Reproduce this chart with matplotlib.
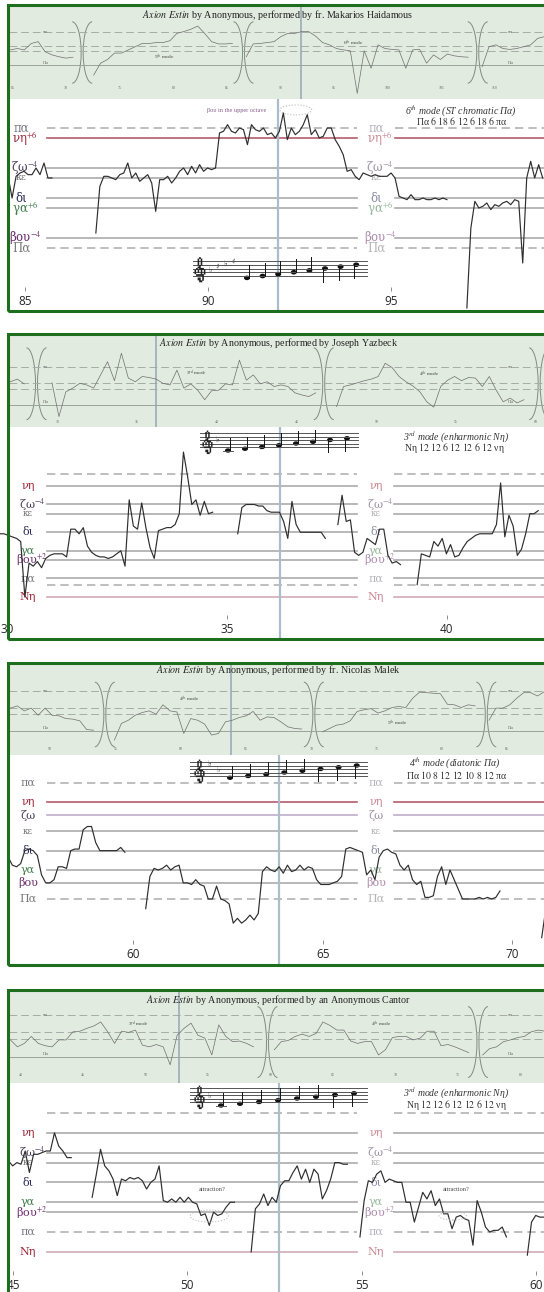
import numpy as np
import matplotlib
matplotlib.use("Agg")
import matplotlib.pyplot as plt
import matplotlib.transforms as mtransforms
from matplotlib import font_manager
from matplotlib.ft2font import FT2Font
from matplotlib.patches import Rectangle, Arc, Ellipse

plt.rcParams["font.family"] = ["Liberation Serif", "DejaVu Serif", "DejaVu Sans"]
plt.rcParams["mathtext.fontset"] = "stix"

nan = np.nan

# ── close-up pitch tracks (moria above Πα, one value every dt seconds) ──
p1_t0, p1_dt = 84.32, 0.109
p1_pitch = [nan, nan, 43, 30, 43, 45, 46, 44, 44, 48, 44, 51, 42, 42,
            nan, nan, nan, nan, nan, nan, nan, nan, nan, nan,
            9, 37, 43, 43, 42, 41, 44, 45, 51, 42, 45, 40, 42, 44, 39, 22, 41, 41, 43, 39,
            42, 46, 48, 44, 49, 45, 50, 46, 48, 47, 48,
            69, 70, 74, 70, 69, 72, 71, 62, 74, 71, 70, 72, 68, 69, 66, 70, 81, 65, 72, 68,
            70, 74, 80, 68, 71, 66, 67, 72, 72, 65, 61, 56,
            46, 47, 43, 41, 45, 44, 43, 44, 43, 43, 43, 45, 42,
            31, 30, 29, 32, 29, 29, 30, 29, 29, 30, 29, 30, 29,
            nan, nan, nan, nan,
            -36, 12, 28, 24, 25, 27, 23, 26, 25, 27, 28, 26, 29, 28, -9, 42, 52, 42, 50, 42]

p2_t0, p2_dt = 29.83, 0.095
p2_pitch = [29, 29, 28, 27, 26, 24, -12, 10, 8, 11, 7, 13, 15, 16, 16, 16, 14,
            32, 32, 29, 33, 21, 17, 15, 14, 14, 13, 14, 16, 18, 8,
            51, 34, 32, 49, 33, 20, 13, 31, 32, 33, 33, 35, 42, 82, 66, 48, 51, 41, 50, 42, 43,
            nan, nan, nan, nan, nan,
            29, 46, 48, 48, 48, 47, 47, 44, 43, 43, 43, 37, 26, 50, 35, 30, 30, 30, 30, 30, 30, 26,
            nan, nan,
            35, 54, 37, 38, 17, 15, 17, 26, 24, 22, 32, 32, 15, 10, 11, 9,
            nan, nan, nan,
            -4, 16, 15, 14, 24, 21, 26, 16, 22, 14, 15, 20, 24, 26, 28, 29, 29, 29, 29, 35,
            62, 27, 41, 34, 15, 19, 29, 42, 42, 44,
            nan, nan, nan, nan, nan, nan, nan]

p3_t0, p3_dt = 56.48, 0.11
p3_pitch = [nan, nan,
            26, 21, 20, 22, 30, 31, 30, 27, 15, 10, 10, 12, 20, 20, 19, 30, 31, 31, 43, 45,
            45, 35, 30, 30, 30, 30, 30, 32, 29,
            nan, nan, nan, nan,
            -6, 14, 19, 18, 19, 21, 18, 20, 21, 10, 10, 9, 12, 9, 8, 0, 0, 8, 0, -1,
            -3, -15, -12, -15, -13, -10, -13, -9,
            17, 20, 18, 17, 20, 16, 21, 17, 18, 21, 18, 20, 19, 12, 9, 9, 9, 10, 11, 14,
            31, 32, 31, 30, 29, 15, 18, 12, 26, 30, 31, 29, 28, 21, 18, 21, 12, 9, 11, 1,
            1, 2, 14, 20, 9, 18, 12, 6, 0, 0, 0, 0, 1, 0, 1, 0, 1, 5,
            nan, nan, nan, nan, nan, nan, nan, nan, nan,
            -24, -6,
            nan, nan, nan, nan, nan]

p4_t0, p4_dt = 44.63, 0.12
p4_pitch = [nan, nan,
            43, 40, 42, 41, 49, 36, 47, 47, 48, 49, 49, 60, 52, 49, 45, 45,
            nan, nan, nan, nan,
            21, 35, 50, 40, 37, 32, 22, 32, 31, 33, 32, 33, 31, 26, 30, 32, 40, 19, 18, 20,
            18, 21, 18, 21, 18, 17, 10, 11, 4, 12, 10, 11, 15, 18, 18,
            nan, nan, nan,
            -12, 14, 17, 23, 16, 21, 18, 28, 31, 31, 36, 40, 32, 38, 30, 38, 35, 20, 25, 32,
            42, 42, 41, 41,
            nan, nan,
            -3, 19, 31, 30, 35, 37, 30, 32, 31, 30, 30, 18, 18, 6, 15, 24, 20, 25, 16, 20,
            11, 11, 2, 9, 10, 8, 7, -8, 19, 12, 3, 0, 1, 1, 3, -3,
            nan, nan, nan, nan,
            -14, 6, 10, 9, 9, 10,
            nan, nan, nan, nan, nan]

# ── whole-recording overview tracks ──
s1_t0, s1_dt = 64.81, 0.647
s1_pitch = [33, 36, 33, 47, 51, 29, 22, 18, 15, 17, nan, nan,
            -22, 4, 12, 26, 26, 33, 40, 47, 47, 49, 49, 53, 69, 73, 78, 85, 69, 51, 46, 46, 47, nan,
            18, 46, 47, 49, 51, 62, 69, 69, 73, 73, 63, 49, 44, 36, 33, 31, -62, 31, -7, 44,
            36, 34, 33, -7, 33, 34, 4, 22, 12, 24, 20, 18, 17, nan,
            -4, 40, 44, 36, 34, 36, 40, 44, 58, 62]

s2_t0, s2_dt = 27.06, 0.435
s2_pitch = [44, 49, 40, nan, nan, nan,
            42, -22, 25, 32, 41, 38, 32, 57, 82, 46, 98, 51, 44, 54, 52, 49, 41, 38, 66, 32,
            40, 28, 10, 27, 28, 40, 38, 85, 47, 57, 40, 44, 35, 38, 35, 23, 19, 16, 23,
            nan, nan,
            -3, 35, 38, 42, 46, 49, 54, 79, 71, 54, 44, 36, 25, 6, -4, 35, 47, 54, 46, 52,
            51, 35, 54, 28, 6, 13, 4, 10,
            nan, nan,
            6, 11, 6, 13]

s3_t0, s3_dt = 46.97, 0.531
s3_pitch = [41, 45, 36, 41, 28, 41, 28, 27, 22, 21, 18, 2, 1,
            nan, nan,
            -17, 13, 19, 28, 33, 36, 30, 47, 36, 34, -5, 22, 19, 12, -8, -5, 16, 19, 24, 27,
            35, 19, 25, 24, 16, 7, 4, 3,
            nan, nan,
            -2, 4, 10, 12, 18, 35, 38, 40, 32, 36, 42, 44, 42, 59, 70, 69, 68, 67, 48, 47,
            42, 47, 45,
            nan,
            19, 41, 41, 47, 59, 69, 69, 63, 71, 74, 77, 80]

s4_t0, s4_dt = 39.17, 0.556
s4_pitch = [29, 17, 23, 35, 23, 19, 17, 29, 29, 43, 44, 49, 53, 60, 43, 23, 44, 42, 46, 20,
            17, 21, 17, -14, 37, 49, 58, 37, 32, 3, 55, 35, 26, 27, 23, 17,
            nan, nan,
            12, 26, 28, 35, 39, 35, 40, 60, 54, 46, 46, 27, 23, 26, 26, 3, 12, 33, 35, 35,
            29, 32, 44, 44, 19, 21, 17, 12, 7,
            nan,
            3, 14, 17, 26, 29, 33, 35, 43, 46, 44, 49, 52, 55]

# mode-section boundaries in the overviews (s) and the mode captions (s, moria)
s1_bounds = [71.5, 86.55, 108.4]
s2_bounds = [28.7, 46.7, 60.2]
s3_bounds = [54.2, 70.2, 83.4]
s4_bounds = [59.75, 76.6]
s1_modes = [("5$^{th}$ mode", 79.2, 17), ("6$^{th}$ mode", 96.8, 47)]
s2_modes = [("3$^{rd}$ mode", 38.7, 60), ("4$^{th}$ mode", 53.3, 58)]
s3_modes = [("4$^{th}$ mode", 60.7, 57), ("5$^{th}$ mode", 76.6, 13)]
s4_modes = [("3$^{rd}$ mode", 49.4, 55), ("4$^{th}$ mode", 68.9, 55)]
strip_dashed = [72, 42, 30]

# scales: note names from the lowest line up, and the intervals (moria) between them
p1_names = ["Πα", "βου$^{-4}$", "γα$^{+6}$", "δι", "κε", "ζω$^{-4}$", "νη$^{+6}$", "πα"]
p1_base, p1_steps = 0, [6, 18, 6, 12, 6, 18, 6]
p2_names = ["Νη", "πα", "βου$^{+2}$", "γα", "δι", "κε", "ζω$^{-4}$", "νη"]
p2_base, p2_steps = -12, [12, 12, 6, 12, 12, 6, 12]
p3_names = ["Πα", "βου", "γα", "δι", "κε", "ζω", "νη", "πα"]
p3_base, p3_steps = 0, [10, 8, 12, 12, 10, 8, 12]
p4_names = p2_names
p4_base, p4_steps = -12, [12, 12, 6, 12, 12, 6, 12]

mode_titles = ["6$^{th}$ mode (ST chromatic Πα)", "3$^{rd}$ mode (enharmonic Νη)",
               "4$^{th}$ mode (diatonic Πα)", "3$^{rd}$ mode (enharmonic Νη)"]
performers = ["fr. Makarios Haidamous", "Joseph Yazbeck", "fr. Nicolas Malek",
              "an Anonymous Cantor"]
cursor_times = [91.9, 36.2, 63.85, 52.63]
p1_ticks, p2_ticks, p3_ticks, p4_ticks = [85, 90, 95], [30, 35, 40], [60, 65, 70], [45, 50, 55, 60]

# scale written on the staff (half line-steps above E4)
staff1 = [-1, 0, 1, 2, 3, 4, 5, 6]
staff2 = [-2, -1, 0, 1, 2, 3, 4, 5]
staff3 = [-1, 0, 1, 2, 3, 4, 5, 6]
staff4 = [-2, -1, 0, 1, 2, 3, 4, 5]

W, H = 544, 1292
fig = plt.figure(figsize=(W / 100, H / 100), dpi=100)
fig.patch.set_facecolor("white")


def rect(x0, y0, x1, y1):
    return [x0 / W, 1 - y1 / H, (x1 - x0) / W, (y1 - y0) / H]


def family_with(ch):
    for fe in font_manager.fontManager.ttflist:
        try:
            if ord(ch) in FT2Font(fe.fname).get_charmap():
                return fe.name
        except Exception:
            continue
    return None


G_CLEF = "\U0001D11E"
CLEF_FAMILY = family_with(G_CLEF)
# outline of a treble clef, in staff half-spaces, used when no font carries the sign
CLEF_X = [0.3, 0.9, 0.6, -0.3, -1.2, -1.4, -0.8, 0.2, 1.0, 1.3, 1.0, 0.4, -0.1, -0.4,
          -0.3, 0.0, 0.3, 0.5, 0.5, 0.1, -0.6, -0.9, -0.6, -0.2]
CLEF_Y = [2.6, 2.0, 0.9, 0.6, 1.4, 2.8, 4.2, 5.4, 6.8, 8.6, 10.4, 11.6, 11.0, 9.6,
          7.8, 5.0, 2.0, -1.0, -3.0, -4.2, -4.3, -3.5, -2.9, -3.1]

NOTE_COLORS = {"πα": "#7a7a86", "Πα": "#7a7a7a", "νη": "#9c2436", "Νη": "#9c2436",
               "ζω": "#4d3d5e", "κε": "#6e6e6e", "δι": "#2d2d5c", "γα": "#3e7d4a",
               "βου": "#6b2b6c"}
NOTE_SCALE = {"κε": 0.8}
LINE_STYLE = {"d": ("#b3b3b3", (0, (5, 3))), "s": ("#ababab", "-"),
              "r": ("#b65a6b", "-"), "p": ("#d2aab9", "-"), "v": ("#c0aecb", "-")}


def bare(ax):
    ax.set_xticks([])
    ax.set_yticks([])
    for s in ax.spines.values():
        s.set_visible(False)


def draw_strip(c):
    top, bot = c["top"] + 1, c["split"]
    ax = fig.add_axes(rect(9, top, W, bot))
    ax.set_facecolor("#e2ebdf")
    ax.set_xlim(c["s_left"], c["s_left"] + (W - 9) / c["s_pps"])
    ax.set_ylim((c["s_y0"] - bot) / c["s_mpx"], (c["s_y0"] - top) / c["s_mpx"])
    bare(ax)
    for m in strip_dashed:
        ax.axhline(m, color="#a5ada5", lw=0.7, ls=(0, (8, 4)))
    ax.axhline(0, color="#9ba49b", lw=0.7)
    ax.axvline(c["cursor"], color="#93a7b2", lw=1.1)
    t = c["s_t0"] + c["s_dt"] * np.arange(len(c["s_vals"]))
    ax.plot(t, c["s_vals"], color="#6e6e6e", lw=0.5)

    bl = mtransforms.blended_transform_factory(ax.transData, ax.transAxes)
    lb = mtransforms.blended_transform_factory(ax.transAxes, ax.transData)
    lo, hi = c["br_y"]
    pps = c["s_pps"]
    for b in c["bounds"]:
        ax.add_patch(Arc((b - 10 / pps, (lo + hi) / 2), 18 / pps, hi - lo, theta1=-90,
                         theta2=90, transform=bl, color="#7d8d7d", lw=0.7))
        ax.add_patch(Arc((b + 10 / pps, (lo + hi) / 2), 18 / pps, hi - lo, theta1=90,
                         theta2=270, transform=bl, color="#7d8d7d", lw=0.7))
    for fx in (0.069, 0.938):
        ax.text(fx, 72, "πα", transform=lb, fontsize=3.5, color="#707070",
                ha="center", va="center")
        ax.text(fx, 5, "Πα", transform=lb, fontsize=3.5, color="#707070",
                ha="center", va="center")
    for v in c["s_ticks"]:
        ax.text(v, c["s_tick_y"], str(v), transform=bl, fontsize=2.8, color="#666666",
                ha="center", va="center")
    for txt, tx, my in c["s_modes"]:
        ax.text(tx, my, txt, fontsize=3.8, color="#444444", ha="center", va="center")
    ax.text(0.503, c["title_y"],
            r"$\mathit{Axion\ Estin}$ by Anonymous, performed by " + c["who"],
            transform=ax.transAxes, ha="center", va="center", fontsize=7.2, color="#222222")


def draw_main(c):
    top, bot = c["split"], c["bottom"]
    ax = fig.add_axes(rect(0, top, W, bot))
    ax.set_facecolor("white")
    ax.set_xlim(c["t_left"], c["t_left"] + W / c["pps"])
    ax.set_ylim((c["y0"] - bot) / c["mpx"], (c["y0"] - top) / c["mpx"])
    bare(ax)
    blend = mtransforms.blended_transform_factory(ax.transAxes, ax.transData)
    xl0, xl1, xr0 = [v / W for v in c["lines_px"]]
    moria = c["base"] + np.concatenate([[0], np.cumsum(c["steps"])])
    for name, m, kind in zip(c["names"], moria, c["kinds"]):
        col, ls = LINE_STYLE[kind]
        ax.axhline(m, xl0, xl1, color=col, lw=1.2, ls=ls, zorder=1)
        ax.axhline(m, xr0, 1, color=col, lw=1.2, ls=ls, zorder=1)
        key = name.split("$")[0]
        tcol = NOTE_COLORS[key]
        fs = c["lab_fs"] * NOTE_SCALE.get(key, 1)
        shift = 4 if "$" in name else 0
        for k, lx in enumerate(c["lab_px"]):
            ax.text((lx + shift) / W, m, name, transform=blend, ha="center", va="center",
                    color=tcol, alpha=1 if k == 0 else 0.55, fontsize=fs,
                    family=["DejaVu Serif"], zorder=3)
    for m in c["extra"]:
        col, ls = LINE_STYLE["d"]
        ax.axhline(m, xl0, xl1, color=col, lw=1.2, ls=ls, zorder=1)
        ax.axhline(m, xr0, 1, color=col, lw=1.2, ls=ls, zorder=1)
    ax.axvline(c["cursor"], color="#a9bdca", lw=1.6, zorder=2)
    t = c["t0"] + c["dt"] * np.arange(len(c["pitch"]))
    ax.plot(t, c["pitch"], color="#2e2e2e", lw=0.85, zorder=4)

    sec = ax.secondary_xaxis(c["tick_loc"])
    sec.set_ticks(c["ticks"], labels=[str(v) for v in c["ticks"]],
                  fontfamily="Open Sans", fontsize=8.5, color="#262626")
    sec.tick_params(axis="x", direction="in", length=3, width=0.7, color="#8c8c8c", pad=3)
    for s in sec.spines.values():
        s.set_visible(False)

    h = bot - top
    (mx1, my1), (mx2, my2) = c["mode_px"]
    ax.text(mx1 / W, (bot - my1) / h, c["mode"], transform=ax.transAxes, ha="center",
            va="center", fontsize=7, style="italic", color="#333333")
    nums = r"\ ".join(str(s) for s in c["steps"])
    line2 = (c["names"][0].split("$")[0] + " $\\mathit{" + nums + "}$ "
             + c["names"][-1].split("$")[0])
    ax.text(mx2 / W, (bot - my2) / h, line2, transform=ax.transAxes, ha="center",
            va="center", fontsize=7, color="#333333")
    return ax


def draw_staff(s):
    sp = (s["bot"] - s["top"]) / 8.0
    lo, hi = -6, 12
    ax = fig.add_axes(rect(s["x0"], s["bot"] - hi * sp, s["x1"], s["bot"] - lo * sp))
    ax.set_xlim((s["x0"] - s["first"]) / s["gap"], (s["x1"] - s["first"]) / s["gap"])
    ax.set_ylim(lo, hi)
    ax.axis("off")
    for k in range(0, 9, 2):
        ax.axhline(k, color="#555555", lw=0.7)
    hw = 4.6 / s["gap"]
    for i, n in enumerate(s["notes"]):
        ax.add_patch(Ellipse((i, n), hw, 1.7, color="#111111"))
        if n < 4:
            ax.plot([i + hw * 0.45] * 2, [n + 0.2, n + 7], color="#111111", lw=0.7)
        else:
            ax.plot([i - hw * 0.45] * 2, [n - 0.2, n - 7], color="#111111", lw=0.7)
        for led in range(-2, n - 1, -2):
            ax.plot([i - hw, i + hw], [led, led], color="#555555", lw=0.7)
    cx = (s["clef"] - s["first"]) / s["gap"]
    if CLEF_FAMILY:
        ax.text(cx, 3.0, G_CLEF, family=[CLEF_FAMILY], fontsize=sp * 9.5,
                ha="center", va="center", color="#222222")
    else:
        kx = 1.6 * sp / s["gap"]
        ax.plot([cx + kx * v for v in CLEF_X], CLEF_Y, color="#111111", lw=1.0,
                solid_capstyle="round", solid_joinstyle="round")
    for px, st, g in s["accs"]:
        ax.text((px - s["first"]) / s["gap"], st, g, family=["DejaVu Sans"], fontsize=5.5,
                ha="center", va="center", color="#444444")


panels = [
    dict(top=5, split=99, bottom=311, who=performers[0],
         s_t0=s1_t0, s_dt=s1_dt, s_vals=s1_pitch, s_left=64.675, s_pps=10.72, s_y0=65,
         s_mpx=0.458, s_ticks=range(65, 111, 5), s_tick_y=0.118, bounds=s1_bounds,
         br_y=(0.17, 0.83), s_modes=s1_modes, title_y=0.90,
         t0=p1_t0, dt=p1_dt, pitch=p1_pitch, t_left=84.317, pps=36.6, y0=248, mpx=1.667,
         names=p1_names, base=p1_base, steps=p1_steps, kinds="dsssssrd", extra=[],
         lines_px=(47, 357, 395), lab_px=(21, 376), lab_fs=8.5, cursor=cursor_times[0],
         ticks=p1_ticks, tick_loc=0.094, mode=mode_titles[0], mode_px=((461, 111), (462, 121)),
         staff=dict(x0=193, x1=368, top=261, bot=276, first=247, gap=15.6, clef=199,
                    accs=[(210, 3, "♭"), (217, 5, "♯"), (225, 6.5, "♭"), (233, 8, "♯")],
                    notes=staff1)),
    dict(top=334, split=427, bottom=639, who=performers[1],
         s_t0=s2_t0, s_dt=s2_dt, s_vals=s2_pitch, s_left=26.976, s_pps=15.957, s_y0=405,
         s_mpx=0.528, s_ticks=range(30, 61, 5), s_tick_y=0.05, bounds=s2_bounds,
         br_y=(0.08, 0.86), s_modes=s2_modes, title_y=0.913,
         t0=p2_t0, dt=p2_dt, pitch=p2_pitch, t_left=29.834, pps=43.93, y0=578.5, mpx=1.542,
         names=p2_names, base=p2_base, steps=p2_steps, kinds="psssssss", extra=[-4, 68],
         lines_px=(47, 357, 394), lab_px=(28, 376), lab_fs=8, cursor=cursor_times[1],
         ticks=p2_ticks, tick_loc=0.094, mode=mode_titles[1], mode_px=((456, 437), (454, 448)),
         staff=dict(x0=200, x1=359, top=433, bot=447, first=228, gap=17, clef=206,
                    accs=[(217, 4, "♭")], notes=staff2)),
    dict(top=663, split=755, bottom=965, who=performers[2],
         s_t0=s3_t0, s_dt=s3_dt, s_vals=s3_pitch, s_left=46.864, s_pps=13.063, s_y0=730.7,
         s_mpx=0.551, s_ticks=range(50, 86, 5), s_tick_y=0.066, bounds=s3_bounds,
         br_y=(0.09, 0.80), s_modes=s3_modes, title_y=0.934,
         t0=p3_t0, dt=p3_dt, pitch=p3_pitch, t_left=56.484, pps=37.89, y0=899, mpx=1.611,
         names=p3_names, base=p3_base, steps=p3_steps, kinds="dssssvrd", extra=[],
         lines_px=(47, 357, 394), lab_px=(28, 376), lab_fs=8, cursor=cursor_times[2],
         ticks=p3_ticks, tick_loc=0.10, mode=mode_titles[2], mode_px=((455, 763), (457, 775)),
         staff=dict(x0=190, x1=368, top=762, bot=776, first=230, gap=18.1, clef=198,
                    accs=[(209, 6.5, "♭"), (218, 3.5, "♭")], notes=staff3)),
    dict(top=990, split=1083, bottom=1294, who=performers[3],
         s_t0=s4_t0, s_dt=s4_dt, s_vals=s4_pitch, s_left=39.054, s_pps=12.49, s_y0=1056.7,
         s_mpx=0.579, s_ticks=range(40, 81, 5), s_tick_y=0.087, bounds=s4_bounds,
         br_y=(0.06, 0.83), s_modes=s4_modes, title_y=0.90,
         t0=p4_t0, dt=p4_dt, pitch=p4_pitch, t_left=44.627, pps=34.87, y0=1232, mpx=1.653,
         names=p4_names, base=p4_base, steps=p4_steps, kinds="pdssssss", extra=[72],
         lines_px=(47, 357, 394), lab_px=(28, 376), lab_fs=8, cursor=cursor_times[3],
         ticks=p4_ticks, tick_loc=0.09, mode=mode_titles[3], mode_px=((456, 1093), (456, 1105)),
         staff=dict(x0=190, x1=368, top=1088, bot=1102, first=221, gap=19, clef=198,
                    accs=[(209, 3, "♭")], notes=staff4)),
]

main_axes = []
for c in panels:
    draw_strip(c)
    main_axes.append(draw_main(c))
    draw_staff(c["staff"])
    fig.add_artist(Rectangle((8 / W, 1 - c["bottom"] / H), (W + 20 - 8) / W,
                             (c["bottom"] - c["top"]) / H, transform=fig.transFigure,
                             fill=False, ec="#1d6e1d", lw=2.2, zorder=10))

# remarks on the first and last recordings
a1, a4 = main_axes[0], main_axes[3]
a1.text(90.79, 82.2, "βου in the upper octave", fontsize=4.5, color="#8a5a8a",
        ha="center", va="center")
a1.add_patch(Ellipse((92.4, 82.8), 0.87, 6, fill=False, ec="#bbbbbb", ls=":", lw=0.8, zorder=5))
for tx, ex, ew, eh in [(50.72, 50.63, 1.1, 7.3), (57.7, 57.61, 0.78, 5)]:
    a4.text(tx, 26, "attraction?", fontsize=4.5, color="#444444", ha="center", va="center")
    a4.add_patch(Ellipse((ex, 9.7), ew, eh, fill=False, ec="#bbbbbb", ls=":", lw=0.8, zorder=5))

fig.savefig("out.png", dpi=100, facecolor="white")
